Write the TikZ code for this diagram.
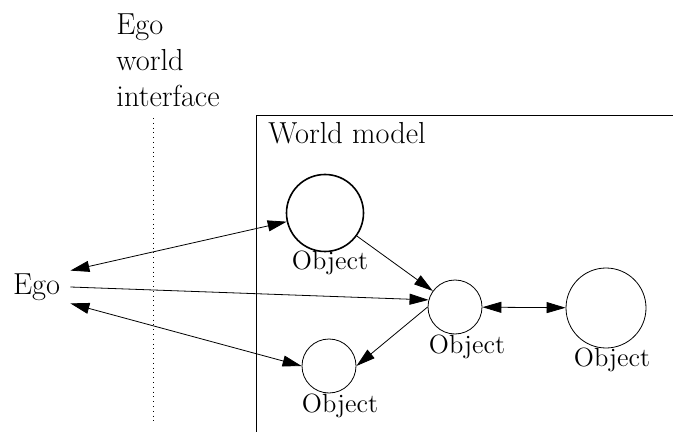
\documentclass[tikz,border=0pt]{standalone}
\usetikzlibrary{arrows.meta}
\begin{document}
\begin{tikzpicture}[x=0.5pt, y=-0.5pt, >={Triangle[length=9.5pt, width=5.5pt]}, thin,
    obj/.style={circle, draw, inner sep=0pt},
    objlabel/.style={anchor=base, inner sep=0pt, font=\fontsize{13.2}{15}\selectfont},
    bigtext/.style={inner sep=0pt, font=\fontsize{15.2}{18}\selectfont}]
  \useasboundingbox (0,0) rectangle (673,432);

  % Schnittstelle
  \node[bigtext, anchor=north west, align=left] (iface) at (116,13) {Ego\\world\\interface};
  \draw[dotted] (153,118) -- (153,421);

  % Weltmodell
  \draw (256,432) -- (256,115) -- (673,115);
  \node[bigtext, anchor=base west] (wm) at (268,144) {World model};

  % Ego und Objekte
  \node[bigtext, inner xsep=5pt, minimum height=16pt] (ego) at (36.5,287) {Ego};
  \node[obj, minimum size=38.5pt, line width=0.8pt] (obj1) at (325,213) {};
  \node[obj, minimum size=27pt] (obj2) at (455,307) {};
  \node[obj, minimum size=40pt] (obj3) at (606,308) {};
  \node[obj, minimum size=27pt] (obj4) at (329,366) {};

  \node[objlabel] (lab1) at (330,270) {Object};
  \node[objlabel] (lab2) at (467,353) {Object};
  \node[objlabel] (lab3) at (612,366) {Object};
  \node[objlabel] (lab4) at (340,412) {Object};

  % Pfeile
  \draw[<->] (ego.north east) -- (obj1);
  \draw[->] (ego.east) -- (obj2.165);
  \draw[<->] (ego.south east) -- (obj4.west);
  \draw[->] (obj1) -- (obj2);
  \draw[->] (obj2.west) -- (obj4.east);
  \draw[<->] (obj2) -- (obj3);
\end{tikzpicture}
\end{document}
